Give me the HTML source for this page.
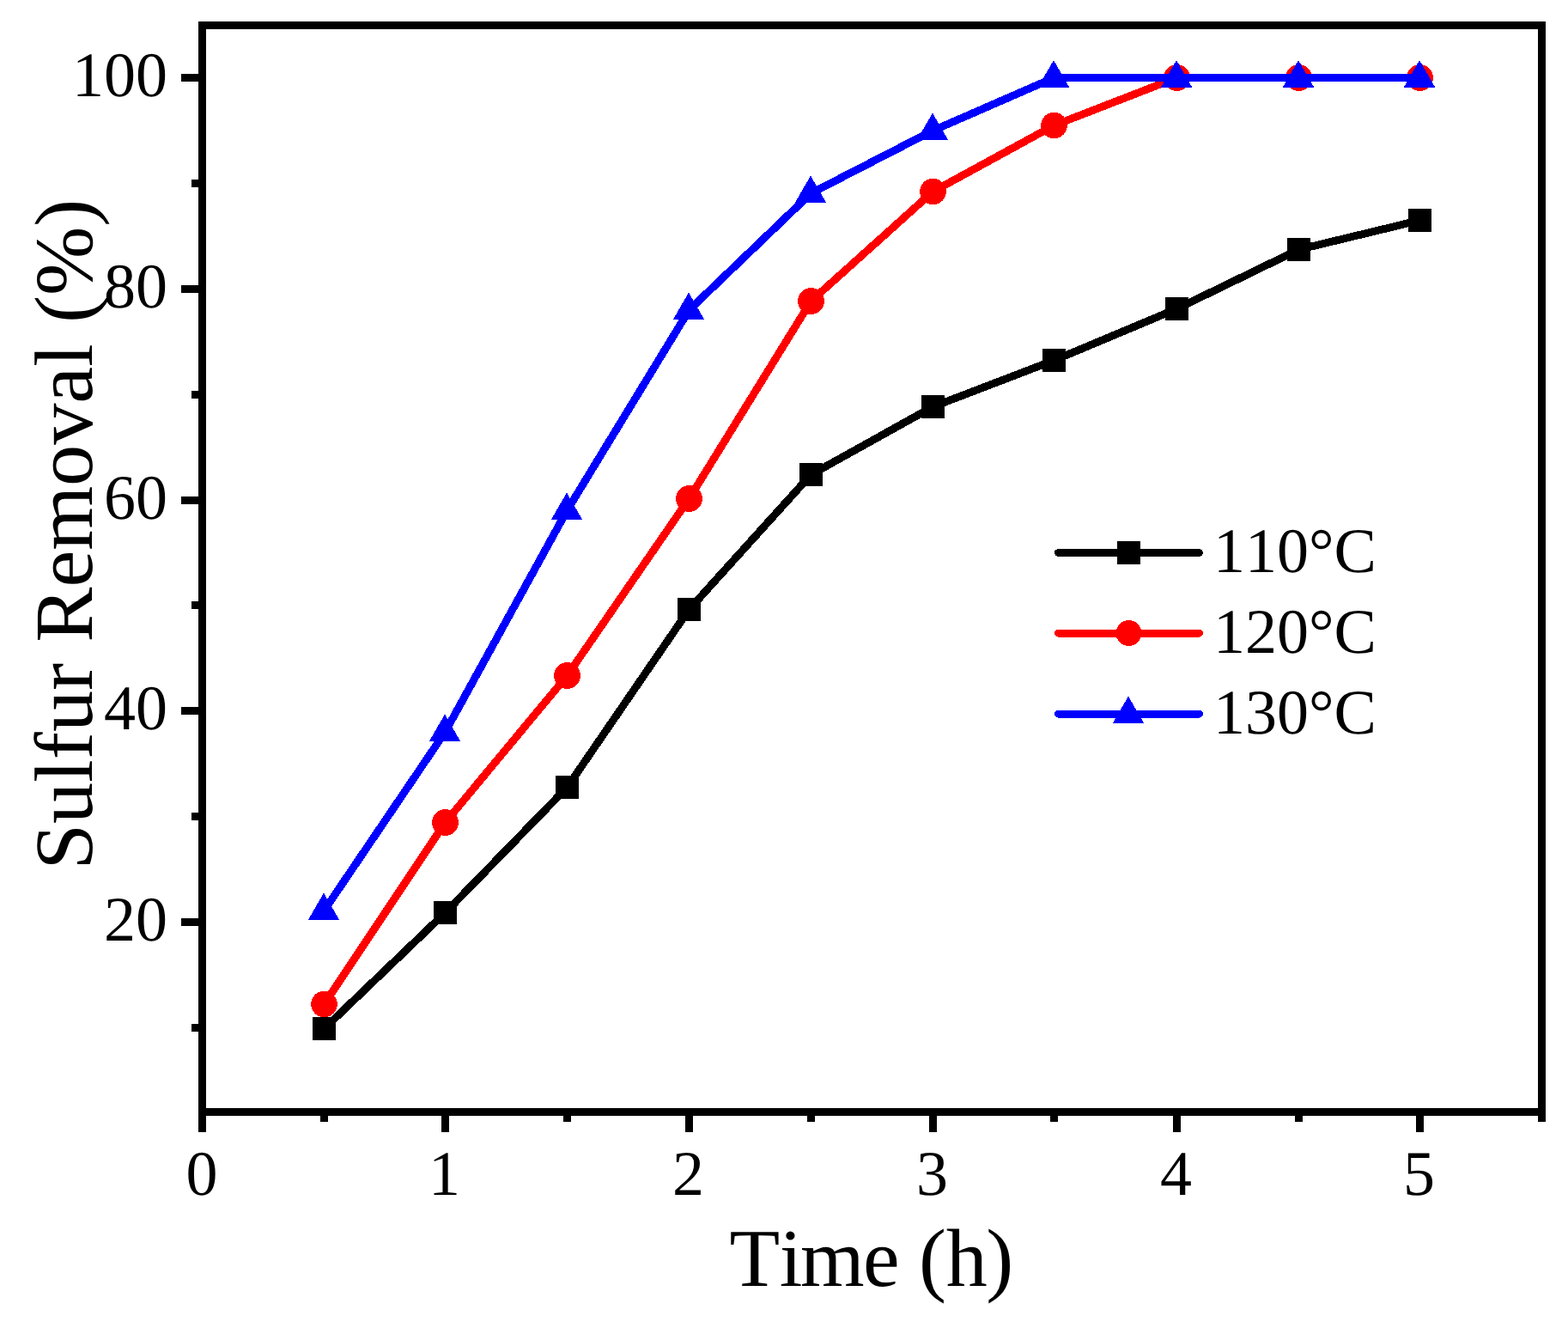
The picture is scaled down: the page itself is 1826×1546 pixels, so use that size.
<!DOCTYPE html>
<html lang="en">
<head>
<meta charset="utf-8">
<title>Sulfur Removal vs Time</title>
<style>
html,body{margin:0;padding:0;background:#fff;}
body{width:1826px;height:1546px;overflow:hidden;}
svg{display:block;}
text{font-family:"Liberation Serif", serif;fill:#000;font-kerning:none;text-rendering:geometricPrecision;}
.tick{font-size:74px;}
.title{font-size:96px;}
.leg{font-size:74px;}
</style>
</head>
<body>
<svg width="1826" height="1546" viewBox="0 0 1826 1546">
<rect x="0" y="0" width="1826" height="1546" fill="#fff"/>
<g fill="#000" shape-rendering="crispEdges">
<rect x="231" y="25" width="1569" height="9"/>
<rect x="231" y="1290" width="1569" height="9"/>
<rect x="231" y="25" width="9" height="1293"/>
<rect x="1791" y="25" width="9" height="1281"/>
<rect x="514" y="1299" width="9" height="19"/>
<rect x="798" y="1299" width="9" height="19"/>
<rect x="1082" y="1299" width="9" height="19"/>
<rect x="1366" y="1299" width="9" height="19"/>
<rect x="1649" y="1299" width="9" height="19"/>
<rect x="373" y="1299" width="9" height="7"/>
<rect x="656" y="1299" width="9" height="7"/>
<rect x="940" y="1299" width="9" height="7"/>
<rect x="1223" y="1299" width="9" height="7"/>
<rect x="1508" y="1299" width="9" height="7"/>
<rect x="211" y="86" width="20" height="9"/>
<rect x="211" y="332" width="20" height="9"/>
<rect x="211" y="578" width="20" height="9"/>
<rect x="211" y="823" width="20" height="9"/>
<rect x="211" y="1069" width="20" height="9"/>
<rect x="223" y="209" width="8" height="9"/>
<rect x="223" y="455" width="8" height="9"/>
<rect x="223" y="700" width="8" height="9"/>
<rect x="223" y="946" width="8" height="9"/>
<rect x="223" y="1192" width="8" height="9"/>
</g>
<g class="tick" text-anchor="end">
<text x="195" y="112.0">100</text>
<text x="195" y="357.8">80</text>
<text x="195" y="603.6">60</text>
<text x="195" y="849.3">40</text>
<text x="195" y="1095.1">20</text>
</g>
<g class="tick" text-anchor="middle">
<text x="235" y="1390.7">0</text>
<text x="517.5" y="1390.7">1</text>
<text x="801.5" y="1390.7">2</text>
<text x="1085.5" y="1390.7">3</text>
<text x="1369.5" y="1390.7">4</text>
<text x="1652.5" y="1390.7">5</text>
</g>
<text class="title" x="849.5 907.7 931.9 1005 1049 1070.1 1101.7 1148.3" y="1496.5">Time (h)</text>
<text class="title" style="font-size:96.3px" text-anchor="end" transform="translate(107 231.7) rotate(-90)">Sulfur Removal (%)</text>
<g shape-rendering="crispEdges" fill="none" stroke-width="9" stroke-linejoin="round" stroke-linecap="round">
<polyline stroke="#000" points="377.5,1197.5 518.5,1062.5 660.5,916.5 802.5,709.5 944.5,552.5 1086.5,473.5 1227.5,419.5 1370.5,359.5 1512.5,290.5 1653.5,256.5"/>
<g fill="#000" stroke="none">
<rect x="364" y="1184" width="27" height="27"/>
<rect x="505" y="1049" width="27" height="27"/>
<rect x="647" y="903" width="27" height="27"/>
<rect x="789" y="696" width="27" height="27"/>
<rect x="931" y="539" width="27" height="27"/>
<rect x="1073" y="460" width="27" height="27"/>
<rect x="1214" y="406" width="27" height="27"/>
<rect x="1357" y="346" width="27" height="27"/>
<rect x="1499" y="277" width="27" height="27"/>
<rect x="1640" y="243" width="27" height="27"/>
</g>
<polyline stroke="#f00" points="377.5,1169.0 518.5,957.5 660.5,786.5 802.5,580.5 944.5,350.5 1086.5,223.0 1227.5,146.0 1370.5,90.5 1512.5,90.5 1653.5,90.5"/>
<g fill="#f00" stroke="none">
<circle cx="377.5" cy="1169.0" r="15.3"/>
<circle cx="518.5" cy="957.5" r="15.3"/>
<circle cx="660.5" cy="786.5" r="15.3"/>
<circle cx="802.5" cy="580.5" r="15.3"/>
<circle cx="944.5" cy="350.5" r="15.3"/>
<circle cx="1086.5" cy="223.0" r="15.3"/>
<circle cx="1227.5" cy="146.0" r="15.3"/>
<circle cx="1370.5" cy="90.5" r="15.3"/>
<circle cx="1512.5" cy="90.5" r="15.3"/>
<circle cx="1653.5" cy="90.5" r="15.3"/>
</g>
<polyline stroke="#00f" points="377.5,1060.0 518.5,852.0 660.5,594.0 802.5,361.0 944.5,225.0 1086.5,152.0 1227.5,90.5 1370.5,90.5 1512.5,90.5 1653.5,90.5"/>
<g fill="#00f" stroke="none">
<polygon points="377.0,1039.5 395.2,1071.0 358.8,1071.0"/>
<polygon points="518.0,831.5 536.2,863.0 499.8,863.0"/>
<polygon points="660.0,573.5 678.2,605.0 641.8,605.0"/>
<polygon points="802.0,340.5 820.2,372.0 783.8,372.0"/>
<polygon points="944.0,204.5 962.2,236.0 925.8,236.0"/>
<polygon points="1086.0,131.5 1104.2,163.0 1067.8,163.0"/>
<polygon points="1227.0,70.0 1245.2,101.5 1208.8,101.5"/>
<polygon points="1370.0,70.0 1388.2,101.5 1351.8,101.5"/>
<polygon points="1512.0,70.0 1530.2,101.5 1493.8,101.5"/>
<polygon points="1653.0,70.0 1671.2,101.5 1634.8,101.5"/>
</g>
<line stroke="#000" x1="1232.5" y1="643.5" x2="1396.5" y2="643.5"/>
<rect fill="#000" stroke="none" x="1301" y="630" width="27" height="27"/>
<line stroke="#f00" x1="1232.5" y1="737.0" x2="1396.5" y2="737.0"/>
<circle fill="#f00" stroke="none" cx="1314.5" cy="737.0" r="15"/>
<line stroke="#00f" x1="1232.5" y1="831.0" x2="1396.5" y2="831.0"/>
<g fill="#00f" stroke="none"><polygon points="1314.0,810.5 1332.2,842.0 1295.8,842.0"/></g>
</g>
<g class="leg">
<text x="1413" y="666">110°C</text>
<text x="1413" y="760">120°C</text>
<text x="1413" y="854">130°C</text>
</g>
</svg>
</body>
</html>
